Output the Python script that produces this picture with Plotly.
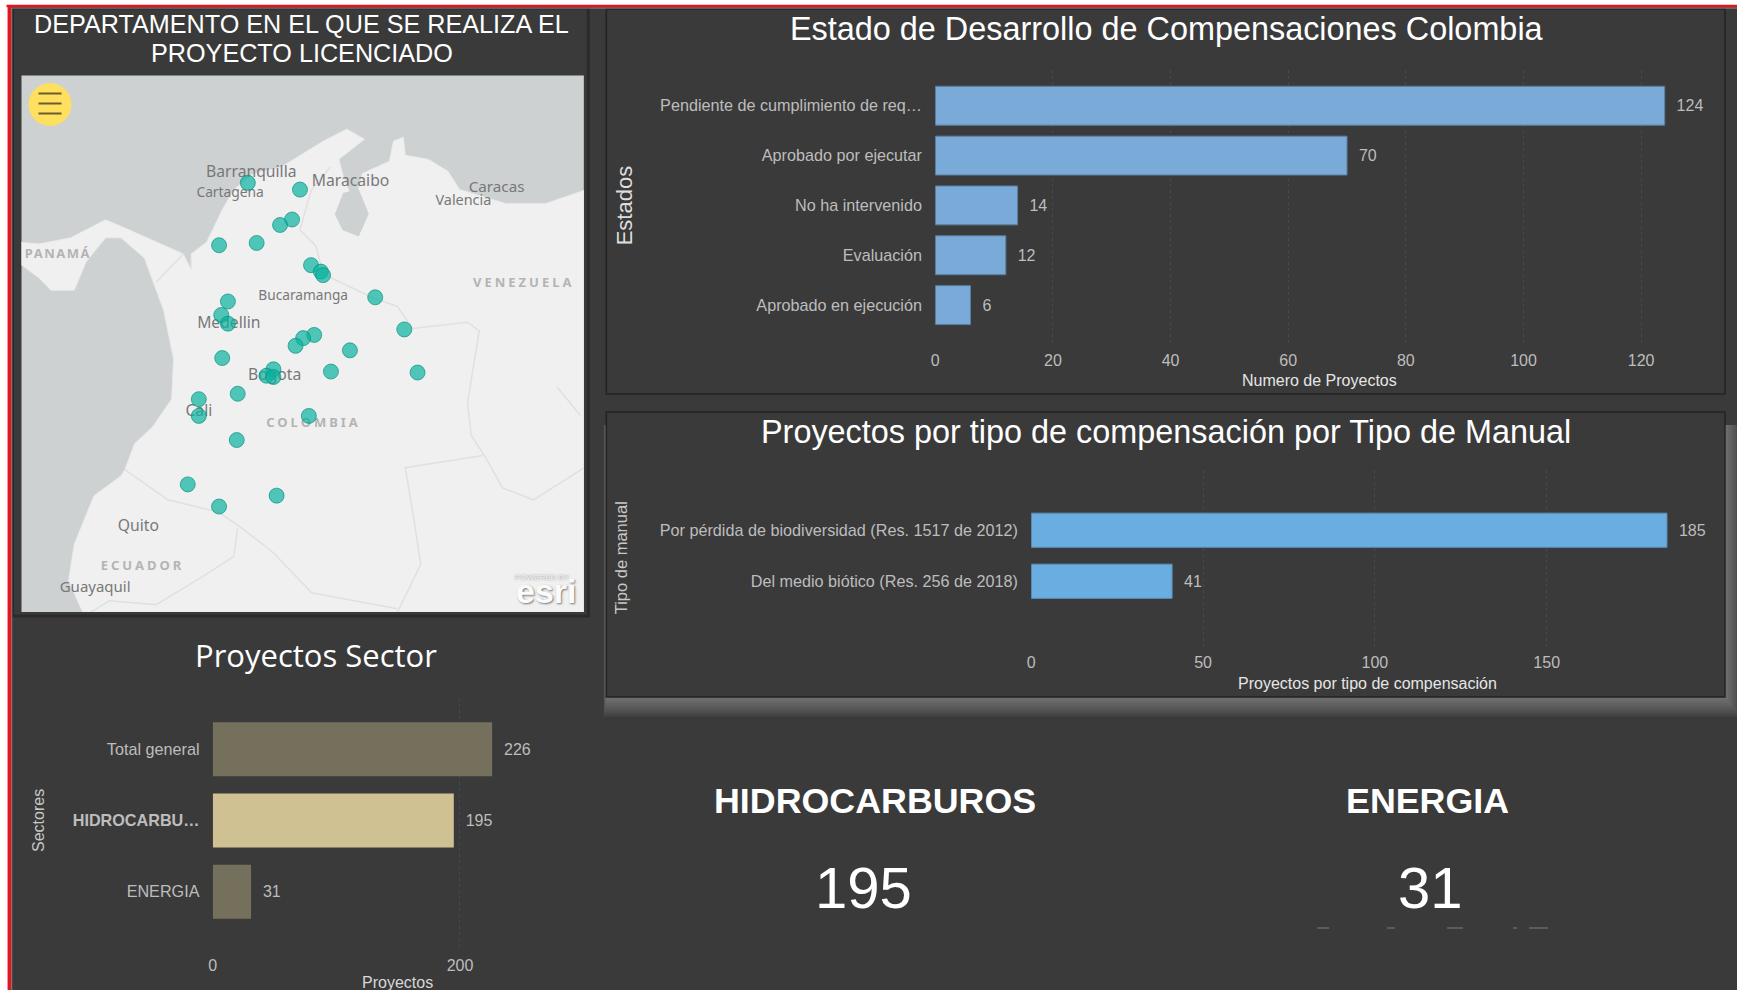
import plotly.graph_objects as go

W, H = 1737, 990

# ---------- data ----------
estado_cats = ["Pendiente de cumplimiento de req…", "Aprobado por ejecutar", "No ha intervenido", "Evaluación", "Aprobado en ejecución"]
estado_vals = [124, 70, 14, 12, 6]
manual_cats = ["Por pérdida de biodiversidad (Res. 1517 de 2012)", "Del medio biótico (Res. 256 de 2018)"]
manual_vals = [185, 41]
sector_cats = ["Total general", "<b>HIDROCARBU…</b>", "ENERGIA"]
sector_vals = [226, 195, 31]
sector_colors = ["#75705b", "#cfc192", "#75705b"]

proj_lon = [-74.91, -73.26, -73.51, -73.89, -75.82, -74.63, -72.91, -72.60, -72.53, -70.88, -75.54, -75.75, -75.54,
            -69.96, -72.81, -73.16, -73.40, -71.68, -75.72, -74.10, -74.32, -74.10, -72.28, -69.54, -76.46, -76.46,
            -75.23, -72.98, -75.26, -76.81, -75.82, -74.00]
proj_lat = [10.66, 10.45, 9.52, 9.35, 8.72, 8.79, 8.10, 7.90, 7.79, 7.10, 6.97, 6.55, 6.28,
            6.10, 5.93, 5.83, 5.59, 5.45, 5.21, 4.86, 4.66, 4.62, 4.79, 4.76, 3.93, 3.41,
            4.10, 3.41, 2.66, 1.28, 0.59, 0.93]

city_names = ["Barranquilla", "Cartagena", "Maracaibo", "Caracas", "Valencia", "Bucaramanga", "Medellin", "Bogota", "Cali", "Quito", "Guayaquil"]
city_lon = [-74.80, -75.47, -71.66, -67.04, -68.09, -73.16, -75.51, -74.06, -76.46, -78.37, -79.74]
city_lat = [10.95, 10.33, 10.67, 10.48, 10.09, 7.12, 6.28, 4.66, 3.53, -0.04, -1.96]
city_sizes = [15.7, 13.8, 15.7, 15.2, 14.4, 13.7, 15.7, 15.7, 15.7, 15.7, 15]
country_names = ["PANAMÁ", "VENEZUELA", "COLOMBIA", "ECUADOR"]
country_lon = [-80.92, -66.18, -72.83, -78.24]
country_lat = [8.41, 7.52, 3.18, -1.27]

land_lon = [-82.2, -81.51, -80.52, -79.41, -78.67, -77.81, -76.95, -76.70, -76.70, -76.21, -75.72, -75.35, -74.73, -73.87,
            -73.26, -72.52, -71.78, -71.22, -72.03, -71.9, -71.66, -71.45, -71.29, -70.43, -70.30, -69.99, -69.93, -69.19,
            -68.58, -68.21, -66.73, -65.50, -64.2, -64.2, -80.09, -80.58, -80.40, -79.78, -78.92, -78.80, -78.49, -77.94,
            -77.32, -77.26, -77.57, -77.81, -78.18, -78.92, -79.41, -80.03, -80.40, -81.14, -81.51, -82.2]
land_lat = [8.82, 8.76, 8.95, 9.51, 9.20, 8.82, 8.45, 7.95, 8.45, 8.82, 9.82, 10.45, 10.95, 11.14,
            11.52, 11.96, 12.33, 12.02, 11.39, 10.9, 10.3, 10.3, 10.95, 11.33, 11.96, 12.08, 11.52, 11.39,
            11.02, 10.45, 10.01, 10.01, 10.45, -2.8, -2.8, -1.71, -0.58, 0.92, 1.55, 1.74, 2.55, 3.05,
            3.93, 5.19, 6.69, 7.32, 8.32, 8.95, 8.95, 8.20, 7.32, 7.32, 7.70, 8.2]
lake_lon = [-71.90, -71.41, -71.10, -71.41, -71.90, -72.15]
lake_lat = [10.33, 10.45, 9.70, 9.01, 9.20, 9.70]
borders = [
    ([-72.3, -72.89, -73.01, -73.26, -72.76, -72.52, -70.92, -70.18, -69.69, -67.96, -67.59, -67.96, -67.84, -67.35, -66.85, -65.87, -64.27],
     [11.15, 10.45, 10.08, 9.20, 8.70, 7.82, 7.07, 6.82, 6.13, 6.32, 6.06, 3.81, 2.80, 2.05, 1.17, 0.80, 1.80]),
    ([-67.47, -69.93, -69.69, -69.44, -70.18], [2.18, 1.80, 0.42, -1.21, -2.71]),
    ([-78.80, -77.44, -75.84, -75.10, -74.12, -72.89, -70.18], [1.74, 0.80, 0.42, -0.08, -0.83, -2.09, -2.59]),
    ([-75.23, -75.35, -76.34, -77.81, -79.29, -79.90], [-0.08, -0.96, -1.59, -2.46, -2.34, -2.71]),
    ([-65.13, -64.39], [4.31, 3.43]),
    ([-76.95, -77.81], [8.45, 7.57]),
]

# ---------- style ----------
BG = "#3a3a3a"
TICK = "#bdbdbd"
FONT = "Liberation Sans"
PAD = "\u00a0\u00a0"


def px(x):
    return (x - 3.5 + 0.002 * x) / W


def py(y):
    return 1 - y / H


def label(x, y, text, size, color="#ffffff", bold=False, angle=0, family=FONT, shadow="none"):
    return dict(xref="paper", yref="paper", x=px(x), y=py(y), text=f"<b>{text}</b>" if bold else text,
                showarrow=False, xanchor="center", yanchor="middle", textangle=angle,
                font=dict(family=family, size=size, color=color, shadow=shadow))


def rect(x0, y0, x1, y1, fill, line=None, lw=1, layer="below"):
    return dict(type="rect", xref="paper", yref="paper", x0=px(x0), x1=px(x1), y0=py(y0), y1=py(y1),
                fillcolor=fill, line=dict(color=line or "rgba(0,0,0,0)", width=lw), layer=layer)


def seg(x0, y0, x1, y1, color, width, dash="solid"):
    return dict(type="line", xref="paper", yref="paper", x0=px(x0), x1=px(x1), y0=py(y0), y1=py(y1),
                line=dict(color=color, width=width, dash=dash), layer="above")


fig = go.Figure()

# map (axes x4/y4, in degrees)
fig.add_trace(go.Scatter(x=land_lon, y=land_lat, mode="lines", fill="toself", fillcolor="#f0f0f0",
                         line=dict(color="#e8eaea", width=1), xaxis="x4", yaxis="y4", hoverinfo="skip"))
fig.add_trace(go.Scatter(x=lake_lon, y=lake_lat, mode="lines", fill="toself", fillcolor="#cdd1d2",
                         line=dict(color="#cdd1d2", width=1), xaxis="x4", yaxis="y4", hoverinfo="skip"))
for blon, blat in borders:
    fig.add_trace(go.Scatter(x=blon, y=blat, mode="lines", line=dict(color="#dfe0e0", width=1.5),
                             xaxis="x4", yaxis="y4", hoverinfo="skip"))
fig.add_trace(go.Scatter(x=city_lon, y=city_lat, mode="text", text=city_names, textposition="middle center",
                         textfont=dict(family="Noto Sans", size=city_sizes, color="#787878"), xaxis="x4", yaxis="y4"))
fig.add_trace(go.Scatter(x=country_lon, y=country_lat, mode="text", text=country_names, textposition="middle center",
                         textfont=dict(family="Noto Sans", size=13, color="#b4b4b4", weight="bold"), xaxis="x4", yaxis="y4"))
fig.add_trace(go.Scatter(x=proj_lon, y=proj_lat, mode="markers",
                         marker=dict(size=15, color="rgba(10,178,158,0.70)", line=dict(color="rgba(0,140,125,0.65)", width=1)),
                         xaxis="x4", yaxis="y4"))

# bars
fig.add_trace(go.Bar(orientation="h", y=estado_cats, x=estado_vals, text=[PAD + str(v) for v in estado_vals], textposition="outside",
                     marker=dict(color="#7aabd8", line=dict(color="#5a7f9f", width=1)), cliponaxis=False,
                     textfont=dict(family=FONT, size=16, color=TICK), xaxis="x", yaxis="y", width=0.78))
fig.add_trace(go.Bar(orientation="h", y=manual_cats, x=manual_vals, text=[PAD + str(v) for v in manual_vals], textposition="outside",
                     marker=dict(color="#6aade0", line=dict(color="#5a8fb8", width=1)), cliponaxis=False,
                     textfont=dict(family=FONT, size=16, color=TICK), xaxis="x2", yaxis="y2", width=0.67))
fig.add_trace(go.Bar(orientation="h", y=sector_cats, x=sector_vals, text=[PAD + str(v) for v in sector_vals], textposition="outside",
                     marker=dict(color=sector_colors, line=dict(width=0)), cliponaxis=False,
                     textfont=dict(family=FONT, size=16, color=TICK), xaxis="x3", yaxis="y3", width=0.76))


def xax(x0, x1, y_anchor, rng, dtick, ticklen):
    return dict(domain=[px(x0), px(x1)], anchor=y_anchor, range=rng, dtick=dtick, showline=False, zeroline=False,
                showgrid=True, gridcolor="#494949", griddash="dot", gridwidth=1,
                ticks="outside", ticklen=ticklen, tickcolor="rgba(0,0,0,0)",
                tickfont=dict(family=FONT, size=16, color=TICK))


def yax(y0, y1, x_anchor, rng):
    return dict(domain=[py(y1), py(y0)], anchor=x_anchor, range=rng, type="category", showgrid=False, zeroline=False,
                showline=False, ticks="outside", ticklen=9, tickcolor="rgba(0,0,0,0)",
                tickfont=dict(family=FONT, size=16.2, color=TICK))


shapes = [rect(10, 7, W + 6, H + 2, BG)]
# soft shadow round the second panel
for i in range(10):
    d = 2 + i * 2
    shapes.append(rect(606 - d * 0.15, 425, 1725 + d * 0.8, 697 + d, "rgba(200,200,200,0.05)"))
shapes += [
    rect(12, 8, 588, 616, BG, "#2b2b2b", 3),
    rect(606, 9, 1725, 394, BG, "#232323", 1.5),
    rect(606, 412, 1725, 697, BG, "#232323", 1.5),
    rect(21, 75.5, 583.5, 612, "#cdd1d2"),
    # red frame with its thin grey inner edge
    seg(10, 8, W + 6, 8, "#8f8f8f", 1),
    seg(11, 8, 11, H + 2, "#7a7a7a", 1.5),
    seg(6, 6, W + 6, 6, "#e8141c", 2.5),
    seg(8.8, 6, 8.8, H + 2, "#e8141c", 3.5),
    # round menu button on the map
    dict(type="circle", xref="paper", yref="paper", x0=px(28), x1=px(71), y0=py(83), y1=py(126),
         fillcolor="#ffdf5e", line=dict(color="#ffdf5e", width=0), layer="above"),
    seg(38, 93.5, 61, 93.5, "#6d5c2c", 2),
    seg(38, 103.5, 61, 103.5, "#6d5c2c", 2),
    seg(38, 113.5, 61, 113.5, "#6d5c2c", 2),
    # clipped caption below the ENERGIA card
    dict(type="line", xref="paper", yref="paper", x0=px(1317), x1=px(1548), y0=py(928), y1=py(928),
         line=dict(color="#7c7c7c", width=1, dash="12px,58px,8px,52px,16px,50px,4px"), layer="above"),
]

annotations = [
    label(301.5, 24, "DEPARTAMENTO EN EL QUE SE REALIZA EL", 25.2),
    label(301.5, 53.5, "PROYECTO LICENCIADO", 25.2),
    label(1166.5, 29, "Estado de Desarrollo de Compensaciones Colombia", 32.4),
    label(1166, 432, "Proyectos por tipo de compensación por Tipo de Manual", 32.4),
    label(315.5, 655, "Proyectos Sector", 31, family="Open Sans"),
    label(624, 205, "Estados", 22, color="#dedede", angle=-90),
    label(621, 558, "Tipo de manual", 16.5, color="#c8c8c8", angle=-90),
    label(37.5, 820, "Sectores", 16, color="#c8c8c8", angle=-90),
    label(1319, 381, "Numero de Proyectos", 16, color="#e6e6e6"),
    label(1367, 683, "Proyectos por tipo de compensación", 16, color="#e6e6e6"),
    label(397, 982, "Proyectos", 16, color="#d8d8d8"),
    label(875, 801, "HIDROCARBUROS", 35.8, bold=True),
    label(1427.5, 801, "ENERGIA", 35.8, bold=True),
    label(863.5, 887, "195", 58),
    label(1430, 887, "31", 58),
    label(542, 577, "POWERED BY", 8, color="#f4f4f4", shadow="0px 0px 2px #777777"),
    label(546, 591, "<b>esri</b>", 34, color="#fbfbfb", shadow="1px 1px 2px #777777"),
]

fig.update_layout(
    width=W, height=H, autosize=False, margin=dict(l=0, r=0, t=0, b=0),
    paper_bgcolor="#ffffff", plot_bgcolor="rgba(0,0,0,0)", showlegend=False, barmode="overlay",
    font=dict(family=FONT), shapes=shapes, annotations=annotations,
    xaxis=xax(935, 1700, "y", [0, 130], 20, 1),
    yaxis=yax(70, 345, "x", [4.80, -0.717]),
    xaxis2=xax(1031, 1700, "y2", [0, 194.6], 50, 1),
    yaxis2=yax(470, 647, "x2", [2.288, -1.18]),
    xaxis3=xax(212.3, 540, "y3", [0, 265], 200, 3),
    yaxis3=yax(698, 948, "x3", [2.79, -0.72]),
    xaxis4=dict(domain=[px(21), px(583.5)], anchor="y4", range=[-82.07, -64.28], visible=False),
    yaxis4=dict(domain=[py(612), py(75.5)], anchor="x4", range=[-2.69, 14.0], visible=False),
)

# letter spacing of the country names on the base map
spacing_js = """
document.body.style.margin='0';document.body.style.background='#ffffff';
var sp={'PANAMÁ':'1.5px','VENEZUELA':'3px','COLOMBIA':'3px','ECUADOR':'3px'};
document.querySelectorAll('.textpoint text').forEach(function(t){
  if(sp[t.textContent]){t.style.letterSpacing=sp[t.textContent];}
});
"""
fig.write_html("out.html", config=dict(displayModeBar=False), post_script=spacing_js)
